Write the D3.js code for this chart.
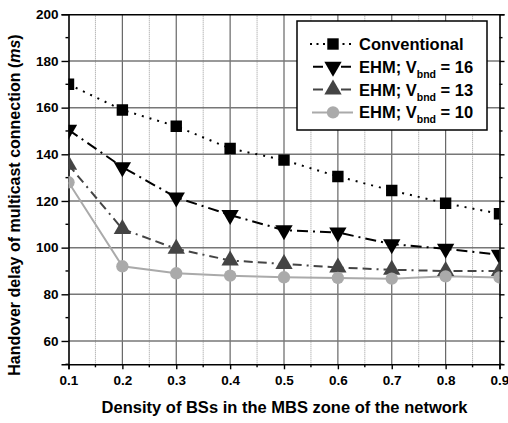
<!DOCTYPE html>
<html><head><meta charset="utf-8">
<script src="https://cdn.jsdelivr.net/npm/d3@7"></script>
<style>
body{margin:0;background:#fff;}
text{font-family:"Liberation Sans",Arial,sans-serif;font-weight:bold;fill:#000;}
</style></head>
<body><svg id="c" width="508" height="423"></svg>
<script>
const density = [0.1,0.2,0.3,0.4,0.5,0.6,0.7,0.8,0.9];
const conventional = [170,159,152,142.5,137.5,130.5,124.5,119,114.5];
const ehm16 = [150.5,134.5,121.5,114,107.5,106.5,101.5,99.5,97];
const ehm13 = [135.5,108,99.5,94.5,93,91.5,90.5,90,90];
const ehm10 = [128,92,89,88,87.3,87,86.7,87.7,87.2];
const xTicks = [0.1,0.2,0.3,0.4,0.5,0.6,0.7,0.8,0.9];
const yTicks = [60,80,100,120,140,160,180,200];
const seriesNames = ["Conventional","EHM; V","EHM; V","EHM; V"];
const seriesSub = ["","bnd","bnd","bnd"];
const seriesSuffix = [""," = 16"," = 13"," = 10"];

const svg = d3.select("#c");
const L=68.5,R=499.5,T=14.3,B=364.3;
const x = d3.scaleLinear().domain([0.1,0.9]).range([L,R]);
const y = d3.scaleLinear().domain([50,200]).range([B,T]);

svg.append("defs").append("clipPath").attr("id","pc")
  .append("rect").attr("x",L).attr("y",T).attr("width",R-L).attr("height",B-T);

// minor vertical dotted grid
const xMinor = d3.range(0.15,0.9,0.1);
svg.append("g").selectAll("line").data(xMinor).join("line")
  .attr("x1",d=>x(d)).attr("x2",d=>x(d)).attr("y1",T).attr("y2",B)
  .attr("stroke","#999").attr("stroke-width",1).attr("stroke-dasharray","1,1");
// major vertical grid
svg.append("g").selectAll("line").data(xTicks.slice(1,-1)).join("line")
  .attr("x1",d=>x(d)).attr("x2",d=>x(d)).attr("y1",T).attr("y2",B)
  .attr("stroke","#666").attr("stroke-width",1.2);
// horizontal grid
svg.append("g").selectAll("line").data(yTicks.slice(0,-1)).join("line")
  .attr("x1",L).attr("x2",R).attr("y1",d=>y(d)).attr("y2",d=>y(d))
  .attr("stroke","#777").attr("stroke-width",1.5);

// axes
const yMinor = d3.range(50,200,10).filter(v=>v%20!==0);
const gl = svg.append("g").attr("transform",`translate(${L},0)`)
  .call(d3.axisLeft(y).tickValues(yTicks).tickSize(7).tickPadding(3).tickFormat(d3.format("d")));
const gb = svg.append("g").attr("transform",`translate(0,${B})`)
  .call(d3.axisBottom(x).tickValues(xTicks).tickSize(5).tickPadding(6).tickFormat(d3.format(".1f")));
const gr = svg.append("g").attr("transform",`translate(${R},0)`)
  .call(d3.axisRight(y).tickValues(yTicks).tickSize(5).tickFormat(""));
const gt = svg.append("g").attr("transform",`translate(0,${T})`)
  .call(d3.axisTop(x).tickValues(xTicks).tickSize(0).tickFormat(""));
[gl,gb,gr,gt].forEach(g=>{
  g.select(".domain").attr("stroke","#000").attr("stroke-width",1.6);
  g.selectAll(".tick line").attr("stroke","#000").attr("stroke-width",1.4);
  g.selectAll("text").attr("font-size",13.5).attr("font-weight","bold").attr("fill","#000")
    .attr("font-family","Liberation Sans, Arial, sans-serif");
});
svg.append("g").selectAll("line").data(yMinor).join("line")
  .attr("x1",L-3).attr("x2",L).attr("y1",d=>y(d)).attr("y2",d=>y(d)).attr("stroke","#000").attr("stroke-width",1.4);
svg.append("g").selectAll("line").data(yMinor).join("line")
  .attr("x1",R).attr("x2",R+3).attr("y1",d=>y(d)).attr("y2",d=>y(d)).attr("stroke","#000").attr("stroke-width",1.4);
svg.append("g").selectAll("line").data(xMinor).join("line")
  .attr("x1",d=>x(d)).attr("x2",d=>x(d)).attr("y1",B).attr("y2",B+3).attr("stroke","#000").attr("stroke-width",1.4);

// series
const styles = [
  {data:conventional,color:"#000",dash:"2,6",sym:d3.symbolSquare,size:130,rot:0},
  {data:ehm16,color:"#000",dash:"11,5,2,5",sym:d3.symbolTriangle,size:130,rot:180},
  {data:ehm13,color:"#444",dash:"9,5,9,5,2,5",sym:d3.symbolTriangle,size:130,rot:0},
  {data:ehm10,color:"#aaa",dash:null,sym:d3.symbolCircle,size:120,rot:0}
];
const plot = svg.append("g").attr("clip-path","url(#pc)");
const line = d3.line().x((d,i)=>x(density[i])).y(d=>y(d));
styles.forEach(s=>{
  plot.append("path").datum(s.data).attr("d",line).attr("fill","none")
    .attr("stroke",s.color).attr("stroke-width",2).attr("stroke-dasharray",s.dash);
});
styles.forEach(s=>{
  plot.append("g").selectAll("path").data(s.data).join("path")
    .attr("d",d3.symbol().type(s.sym).size(s.size))
    .attr("transform",(d,i)=>`translate(${x(density[i])},${y(d)}) rotate(${s.rot})`)
    .attr("fill",s.color);
});

// legend
const lg = svg.append("g");
lg.append("rect").attr("x",297).attr("y",21).attr("width",190).attr("height",109)
  .attr("fill","#fff").attr("stroke","#000").attr("stroke-width",1.5);
const sampleDash = ["2,4.5","10,18","10,18",null];
styles.forEach((s,i)=>{
  const yy = 44 + i*22.8;
  lg.append("line").attr("x1",i===3?312:i===0?310:313).attr("x2",353).attr("y1",yy).attr("y2",yy)
    .attr("stroke",s.color).attr("stroke-width",2).attr("stroke-dasharray",sampleDash[i]);
  lg.append("path").attr("d",d3.symbol().type(s.sym).size(s.size))
    .attr("transform",`translate(333,${yy}) rotate(${s.rot})`).attr("fill",s.color);
  const t = lg.append("text").attr("x",359).attr("y",yy+6).attr("font-size",16.5);
  t.append("tspan").text(seriesNames[i]);
  if(seriesSub[i]){
    t.append("tspan").attr("font-size",10.5).attr("dy",5).text(seriesSub[i]);
    t.append("tspan").attr("dy",-5).text(seriesSuffix[i]);
  }
});

// axis titles
svg.append("text").attr("x",284.5).attr("y",413).attr("text-anchor","middle")
  .attr("font-size",16.5).text("Density of BSs in the MBS zone of the network");
const yt = svg.append("text").attr("transform","translate(20,205) rotate(-90)")
  .attr("text-anchor","middle").attr("font-size",16);
yt.append("tspan").text("Handover delay of multicast connection (");
yt.append("tspan").attr("font-style","italic").text("ms");
yt.append("tspan").text(")");
</script></body></html>
